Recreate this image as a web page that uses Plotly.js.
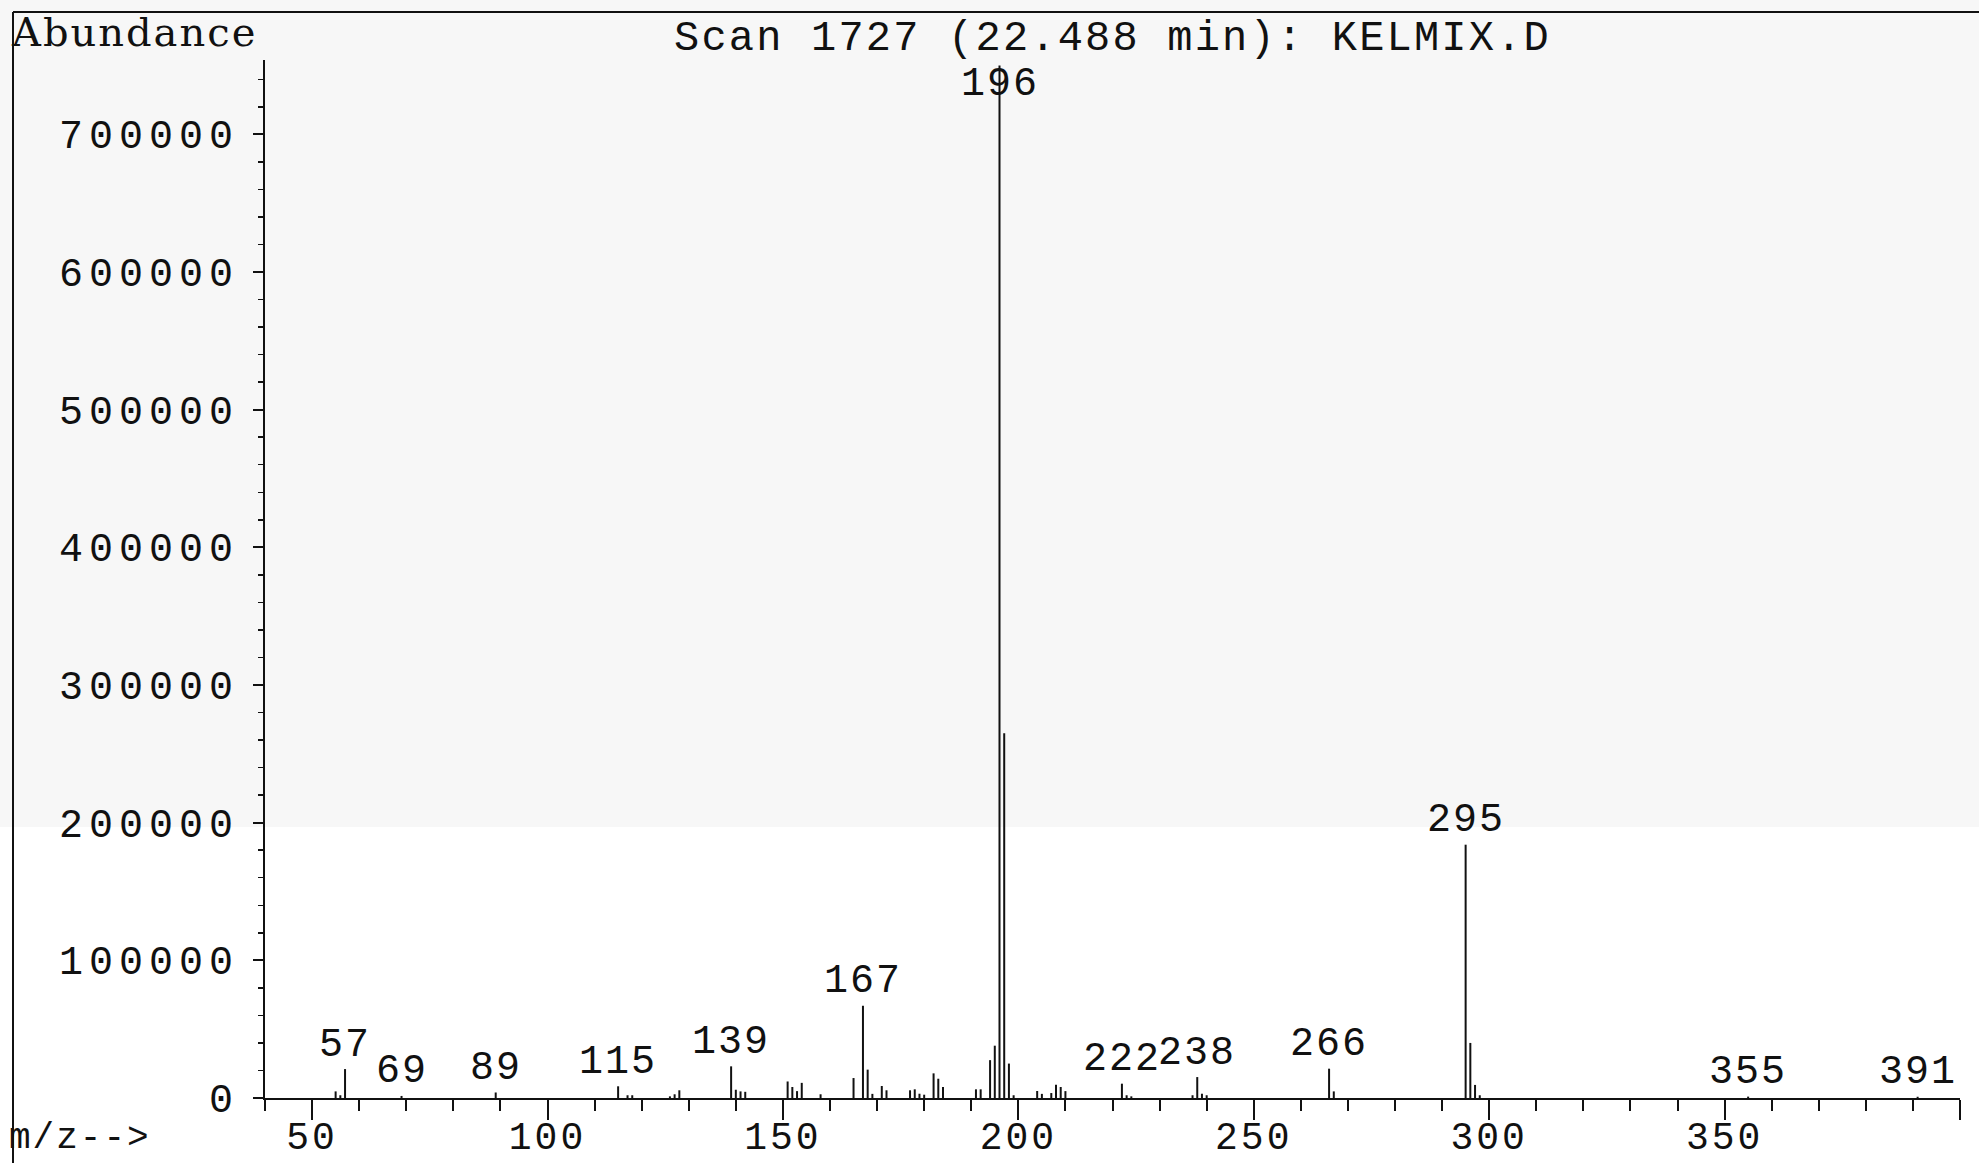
<!DOCTYPE html>
<html>
<head>
<meta charset="utf-8">
<script src="https://cdn.plot.ly/plotly-3.0.1.min.js"></script>
<style>
  html, body { margin: 0; padding: 0; background: #ffffff; }
  #chart { width: 1979px; height: 1163px; }
  #chart .ytick text { letter-spacing: 6px; }
  #chart .xtick text { letter-spacing: 3px; }
  #chart .annotation-text { letter-spacing: 2px; }
  #chart .gtitle { letter-spacing: 2.2px; }
</style>
</head>
<body>
<div id="chart"></div>
<script>
// Mass spectrum of scan 1727: m/z values and their abundances
const massToCharge = [
  55, 56, 57, 69, 89, 115, 117, 118, 126, 127, 128,
  139, 140, 141, 142, 151, 152, 153, 154, 158, 165,
  167, 168, 169, 171, 172, 177, 178, 179, 180, 182, 183, 184,
  191, 192, 194, 195, 196, 197, 198, 199, 204, 205, 207, 208, 209, 210,
  222, 223, 224, 237, 238, 239, 240, 266, 267,
  295, 296, 297, 298, 355, 391
];
const abundance = [
  4800, 2000, 21000, 1500, 4000, 8500, 2000, 2000, 1200, 2700, 5600,
  23000, 6000, 4800, 4500, 12000, 8000, 5000, 11000, 2700, 14500,
  67000, 20600, 3000, 8700, 5600, 5600, 6300, 3100, 2400, 17900, 14000, 8000,
  6300, 6300, 27500, 38000, 750000, 265000, 25000, 2000, 5100, 3000, 3600, 9700, 8000, 5000,
  10400, 2000, 1200, 2000, 15200, 3100, 2000, 21300, 4800,
  184000, 40000, 9500, 2000, 1000, 900
];
// Peaks whose m/z is printed above the stick
const labelledPeaks = [57, 69, 89, 115, 139, 167, 196, 222, 238, 266, 295, 355, 391];

const xTickValues = [50, 100, 150, 200, 250, 300, 350, 400];
const xTickLabels = ['50', '100', '150', '200', '250', '300', '350', ''];
const yTickValues = [0, 100000, 200000, 300000, 400000, 500000, 600000, 700000];
const yTickLabels = ['0', '100000', '200000', '300000', '400000', '500000', '600000', '700000'];

const chartTitle = 'Scan 1727 (22.488 min): KELMIX.D';
const yLabel = 'Abundance';
const xLabel = 'm/z-->';

const X_RANGE = [40, 400];
const Y_MAX = 754000;

// Figure geometry (pixels)
const FIG_W = 1979, FIG_H = 1163;
const M = { l: 265, r: 19, t: 60, b: 65 };
const PLOT_W = FIG_W - M.l - M.r;
const PLOT_H = FIG_H - M.t - M.b;
const paperX = px => (px - M.l) / PLOT_W;
const paperY = py => (FIG_H - M.b - py) / PLOT_H;

const INK = '#111111';
const MONO = 'Liberation Mono, DejaVu Sans Mono, monospace';

// Each peak is a vertical stick from the baseline to its abundance
const stickX = [], stickY = [];
massToCharge.forEach((m, i) => {
  stickX.push(m, m, null);
  stickY.push(0, abundance[i], null);
});

const sticks = {
  type: 'scatter',
  mode: 'lines',
  x: stickX,
  y: stickY,
  line: { color: INK, width: 2 },
  hoverinfo: 'skip',
  showlegend: false
};

const peakLabels = labelledPeaks.map(m => {
  const a = abundance[massToCharge.indexOf(m)];
  return {
    x: m, y: a, xref: 'x', yref: 'y',
    text: String(m),
    showarrow: false,
    xanchor: 'center', yanchor: 'middle',
    yshift: a > 0.9 * Y_MAX ? -19 : 24,
    font: { family: MONO, size: 40, color: INK }
  };
});

const layout = {
  width: FIG_W, height: FIG_H, autosize: false,
  margin: M,
  paper_bgcolor: '#ffffff',
  plot_bgcolor: 'rgba(0,0,0,0)',
  showlegend: false,
  title: {
    text: chartTitle,
    xref: 'paper', x: 0.5, xanchor: 'center',
    yref: 'container', y: 1 - 35 / FIG_H, yanchor: 'middle',
    font: { family: MONO, size: 42, color: INK }
  },
  xaxis: {
    range: X_RANGE,
    showgrid: false, zeroline: false,
    showline: true, linecolor: INK, linewidth: 2,
    tickmode: 'array', tickvals: xTickValues, ticktext: xTickLabels,
    ticks: 'outside', ticklen: 20, tickwidth: 2, tickcolor: INK,
    ticklabelstandoff: -17,
    minor: { tickmode: 'linear', tick0: 0, dtick: 10, ticks: 'outside', ticklen: 11, tickwidth: 2, tickcolor: INK, showgrid: false },
    tickfont: { family: MONO, size: 38, color: INK },
    fixedrange: true
  },
  yaxis: {
    range: [0, Y_MAX],
    showgrid: false, zeroline: false,
    showline: true, linecolor: INK, linewidth: 2,
    tickmode: 'array', tickvals: yTickValues, ticktext: yTickLabels,
    ticks: 'outside', ticklen: 10, tickwidth: 2, tickcolor: INK,
    ticklabelstandoff: 6,
    minor: { tickmode: 'linear', tick0: 0, dtick: 20000, ticks: 'outside', ticklen: 5, tickwidth: 1.5, tickcolor: INK, showgrid: false },
    tickfont: { family: MONO, size: 40, color: INK },
    fixedrange: true
  },
  annotations: peakLabels.concat([
    {
      text: yLabel, xref: 'paper', yref: 'paper',
      x: paperX(18), y: paperY(32), xanchor: 'left', yanchor: 'middle',
      showarrow: false,
      font: { family: 'DejaVu Serif, serif', size: 40, color: INK }
    },
    {
      text: xLabel, xref: 'paper', yref: 'paper',
      x: paperX(13), y: paperY(1138), xanchor: 'left', yanchor: 'middle',
      showarrow: false,
      font: { family: MONO, size: 36, color: INK }
    }
  ]),
  shapes: [
    // light grey tone over the upper part of the sheet
    {
      type: 'rect', xref: 'paper', yref: 'paper', layer: 'below',
      x0: paperX(0), x1: paperX(FIG_W), y0: paperY(827), y1: paperY(0),
      fillcolor: '#f7f7f7', line: { width: 0 }
    },
    // page frame: left and top rules
    {
      type: 'line', xref: 'paper', yref: 'paper',
      x0: paperX(13), x1: paperX(13), y0: paperY(12), y1: paperY(FIG_H),
      line: { color: INK, width: 2 }
    },
    {
      type: 'line', xref: 'paper', yref: 'paper',
      x0: paperX(13), x1: paperX(FIG_W), y0: paperY(12), y1: paperY(12),
      line: { color: INK, width: 2 }
    }
  ]
};

Plotly.newPlot('chart', [sticks], layout, { staticPlot: true, displayModeBar: false });
</script>
</body>
</html>
